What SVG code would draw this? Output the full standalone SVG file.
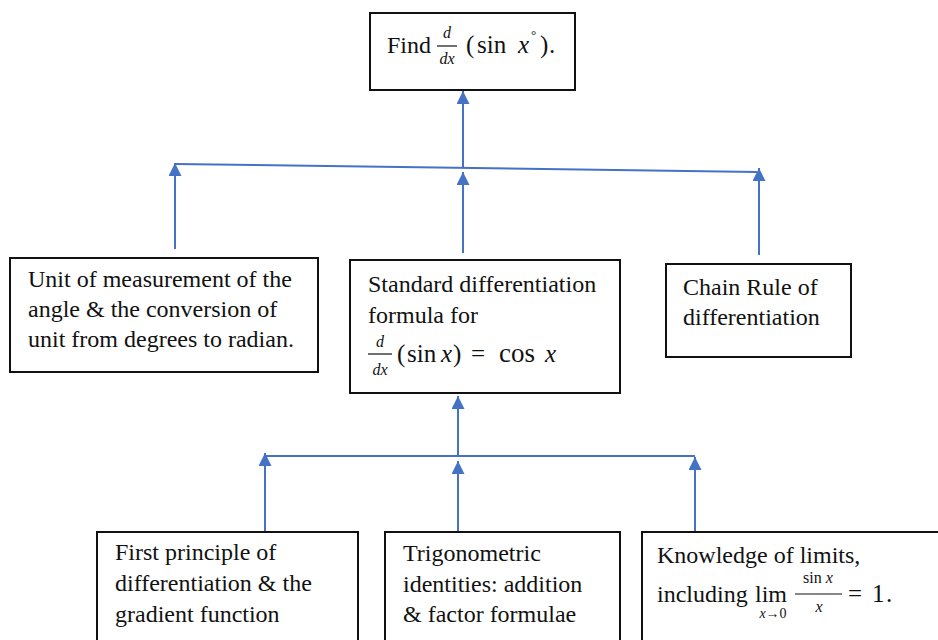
<svg xmlns="http://www.w3.org/2000/svg" width="938" height="640" viewBox="0 0 938 640">
<style>
.box{fill:#fff;stroke:#111;stroke-width:2}
text{font-family:'Liberation Serif','Times New Roman',Times,'DejaVu Serif',serif;fill:#111}
.t{font-size:24px}
.i{font-style:italic}
.con{stroke:#4472C4;stroke-width:2;fill:none}
.bar{stroke:#111;stroke-width:1.2}
</style>
<defs>
<marker id="ah" viewBox="0 0 14 14" refX="14" refY="7" markerWidth="14" markerHeight="13" markerUnits="userSpaceOnUse" orient="auto">
<path d="M0,0 L14,7 L0,14 z" fill="#4472C4"/>
</marker>
</defs>
<rect width="938" height="640" fill="#fff"/>
<g id="connectors">
<line class="con" x1="175" y1="164" x2="757" y2="172"/>
<line class="con" x1="463" y1="168" x2="463" y2="91" marker-end="url(#ah)"/>
<line class="con" x1="175" y1="249" x2="175" y2="163" marker-end="url(#ah)"/>
<line class="con" x1="463" y1="253" x2="463" y2="172" marker-end="url(#ah)"/>
<line class="con" x1="759" y1="255" x2="759" y2="168" marker-end="url(#ah)"/>
<line class="con" x1="265" y1="456" x2="695" y2="456"/>
<line class="con" x1="458" y1="456" x2="458" y2="396" marker-end="url(#ah)"/>
<line class="con" x1="265" y1="532" x2="265" y2="453" marker-end="url(#ah)"/>
<line class="con" x1="458" y1="532" x2="458" y2="461" marker-end="url(#ah)"/>
<line class="con" x1="695" y1="532" x2="695" y2="457" marker-end="url(#ah)"/>
</g>
<g id="top">
<rect class="box" x="370" y="13" width="205" height="77"/>
<text class="t" x="387" y="53" font-size="23">Find</text>
<text class="i" x="447" y="38" font-size="16" text-anchor="middle">d</text>
<line class="bar" x1="437" y1="46" x2="457" y2="46"/>
<text class="i" x="447" y="64" font-size="16" text-anchor="middle">dx</text>
<text y="53" font-size="25"><tspan x="466">(</tspan><tspan x="477">sin</tspan><tspan x="518" class="i">x</tspan></text>
<text x="531" y="39" font-size="13">°</text>
<text y="53" font-size="25"><tspan x="540">)</tspan><tspan x="549">.</tspan></text>
</g>
<g id="unit">
<rect class="box" x="10" y="258" width="308" height="114"/>
<text class="t"><tspan x="28" y="287">Unit of measurement of the</tspan><tspan x="28" y="317">angle &amp; the conversion of</tspan><tspan x="28" y="347">unit from degrees to radian.</tspan></text>
</g>
<g id="standard">
<rect class="box" x="350" y="260" width="270" height="133"/>
<text class="t"><tspan x="368" y="292">Standard differentiation</tspan><tspan x="368" y="323">formula for</tspan></text>
<text class="i" x="380" y="347" font-size="16" text-anchor="middle">d</text>
<line class="bar" x1="368" y1="354" x2="392" y2="354"/>
<text class="i" x="380" y="375" font-size="16" text-anchor="middle">dx</text>
<text y="362" font-size="25"><tspan x="397">(</tspan><tspan x="407">sin</tspan><tspan x="441" class="i">x</tspan><tspan x="453">)</tspan><tspan x="471">=</tspan><tspan x="499" font-size="27">cos</tspan><tspan x="545" class="i">x</tspan></text>
</g>
<g id="chain">
<rect class="box" x="666" y="264" width="185" height="93"/>
<text class="t"><tspan x="683" y="295">Chain Rule of</tspan><tspan x="683" y="325">differentiation</tspan></text>
</g>
<g id="first">
<rect class="box" x="97" y="532" width="261" height="120"/>
<text class="t"><tspan x="115" y="560">First principle of</tspan><tspan x="115" y="591">differentiation &amp; the</tspan><tspan x="115" y="622">gradient function</tspan></text>
</g>
<g id="trig">
<rect class="box" x="385" y="532" width="235" height="120"/>
<text class="t"><tspan x="403" y="561">Trigonometric</tspan><tspan x="403" y="592">identities: addition</tspan><tspan x="403" y="622">&amp; factor formulae</tspan></text>
</g>
<g id="limits">
<rect class="box" x="642" y="532" width="310" height="120"/>
<text class="t"><tspan x="657" y="563">Knowledge of limits,</tspan><tspan x="657" y="602">including</tspan></text>
<text x="755" y="602" font-size="24">lim</text>
<text x="773" y="618" font-size="14" text-anchor="middle"><tspan class="i">x</tspan>→0</text>
<text x="818" y="583" font-size="16" text-anchor="middle">sin <tspan class="i">x</tspan></text>
<line class="bar" x1="795" y1="594" x2="842" y2="594"/>
<text class="i" x="819" y="612" font-size="16" text-anchor="middle">x</text>
<text y="602" font-size="25"><tspan x="848">=</tspan><tspan x="872">1</tspan><tspan x="886">.</tspan></text>
</g>
</svg>
